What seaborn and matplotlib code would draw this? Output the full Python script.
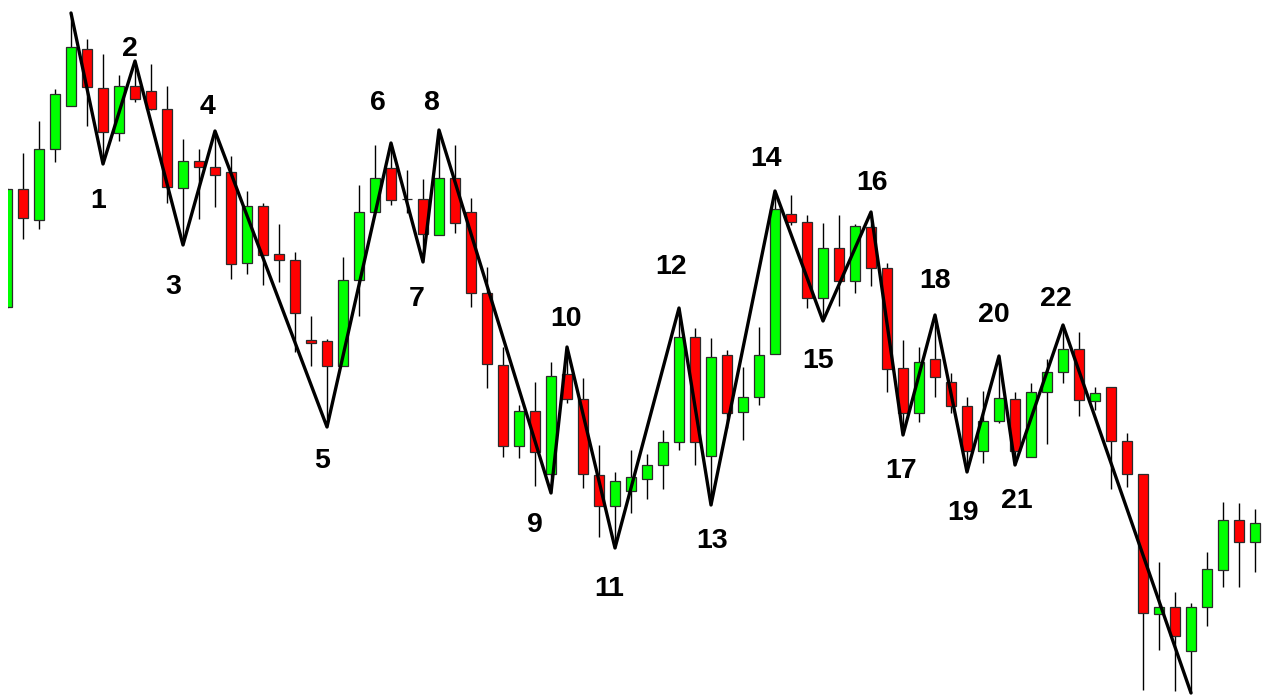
import numpy as np
import pandas as pd
import matplotlib
matplotlib.use("Agg")
import matplotlib.pyplot as plt
import seaborn as sns

# candle data (open, high, low, close), one value per bar
opens = [389, 507, 476, 547, 590, 647, 608, 563, 610, 605, 587, 508, 535, 529, 524, 433,
         490, 442, 436, 356, 355, 330, 416, 484, 528, 497, 497, 461, 518, 484, 403, 331,
         250, 285, 222, 322, 297, 221, 190, 205, 217, 231, 254, 359, 240, 341, 284, 299,
         342, 482, 474, 398, 448, 415, 469, 428, 328, 283, 337, 314, 290, 245, 275, 297,
         239, 304, 324, 347, 295, 309, 255, 222, 82, 89, 45, 89, 126, 176, 154]
highs = [508, 543, 575, 607, 683, 657, 642, 621, 635, 632, 610, 557, 547, 565, 540, 505,
         493, 472, 444, 380, 357, 439, 511, 551, 553, 526, 517, 566, 551, 498, 429, 349,
         291, 314, 334, 349, 318, 251, 224, 246, 242, 266, 388, 368, 358, 346, 329, 369,
         505, 501, 481, 473, 481, 472, 484, 433, 356, 349, 381, 323, 299, 305, 340, 304,
         313, 337, 371, 364, 309, 309, 263, 222, 134, 104, 93, 144, 194, 193, 187]
lows = [388, 457, 467, 534, 590, 570, 532, 555, 594, 586, 493, 451, 477, 489, 417, 422,
        411, 414, 344, 330, 269, 330, 380, 484, 491, 483, 434, 461, 463, 389, 308, 239,
        238, 210, 203, 293, 208, 159, 148, 183, 197, 207, 246, 231, 191, 268, 256, 291,
        342, 471, 388, 375, 390, 403, 410, 304, 261, 274, 299, 283, 224, 233, 273, 231,
        239, 252, 313, 280, 286, 207, 209, 6, 46, 5, 3, 70, 109, 109, 124]
closes = [507, 478, 547, 602, 649, 609, 564, 610, 597, 587, 509, 535, 529, 521, 432, 490,
          441, 436, 383, 353, 330, 416, 484, 518, 496, 497, 462, 518, 473, 403, 332, 250,
          285, 244, 320, 297, 222, 190, 215, 219, 231, 254, 359, 254, 339, 283, 299, 341,
          487, 474, 398, 448, 415, 470, 428, 327, 283, 334, 319, 290, 245, 275, 298, 245,
          304, 324, 347, 296, 303, 255, 222, 83, 89, 60, 89, 127, 176, 154, 173]

# zigzag turning points (bar index), first one is a high, then alternating
pivots = [4, 6, 8, 11, 13, 20, 24, 26, 27, 34, 35, 38, 42, 44, 48, 51, 54, 56, 58,
          60, 62, 63, 66, 74]

# where each swing number sits relative to its turning point (pixels, y down)
label_dx = [-5, -5, -10, -7, -5, -13, -6, -8, -16, -1, -6, -8, 1, -9, -5, 1, -2, 0, -4, -5, 2, -7]
label_dy = [34, -15, 40, -27, 31, -42, 35, -29, 30, -31, 38, -43, 34, -34, 37, -31, 33, -37,
            38, -43, 34, -29]

df = pd.DataFrame({"open": opens, "high": highs, "low": lows, "close": closes})
df["bar"] = np.arange(len(df))
df["up"] = df["close"] > df["open"]

sns.set_style("white")
fig = plt.figure(figsize=(12.63, 6.96), dpi=100)
ax = fig.add_axes([8 / 1263, 0, 1 - 8 / 1263, 1])

# wicks
ax.vlines(df["bar"], df["low"], df["high"], color="black", lw=1.0, zorder=1)

# bodies
body_bottom = df[["open", "close"]].min(axis=1)
body_height = (df["close"] - df["open"]).abs()
body_colors = np.where(df["up"], "#00ff00", "#ff0000")
ax.bar(df["bar"], body_height, bottom=body_bottom, width=0.64,
       color=body_colors, edgecolor="#2b2b2b", linewidth=0.9, zorder=2)

# zigzag line
zz = pd.DataFrame({"bar": pivots})
is_high = [i % 2 == 0 for i in range(len(pivots))]
zz["price"] = [df.loc[b, "high"] if h else df.loc[b, "low"] for b, h in zip(pivots, is_high)]
sns.lineplot(data=zz, x="bar", y="price", ax=ax, color="black", lw=2.4,
             sort=False, zorder=3)

# numbered swing labels (va=center sits a bit high for digits, nudge down)
for n in range(1, len(pivots) - 1):
    b = zz.loc[n, "bar"]
    p = zz.loc[n, "price"]
    ax.annotate(str(n), (b, p), xytext=(label_dx[n - 1], -label_dy[n - 1] - 2.5),
                textcoords="offset pixels", ha="center", va="center",
                fontsize=20.5, fontweight="bold",
                family=["Liberation Sans", "DejaVu Sans"],
                color="black", zorder=4)

ax.set_xlim((8 - 7) / 16, (1263 - 7) / 16)
ax.set_ylim(0, 696)
ax.set_xlabel("")
ax.set_ylabel("")
ax.set_xticks([])
ax.set_yticks([])
for s in ax.spines.values():
    s.set_visible(False)

fig.savefig("out.png", dpi=100, facecolor="white")
